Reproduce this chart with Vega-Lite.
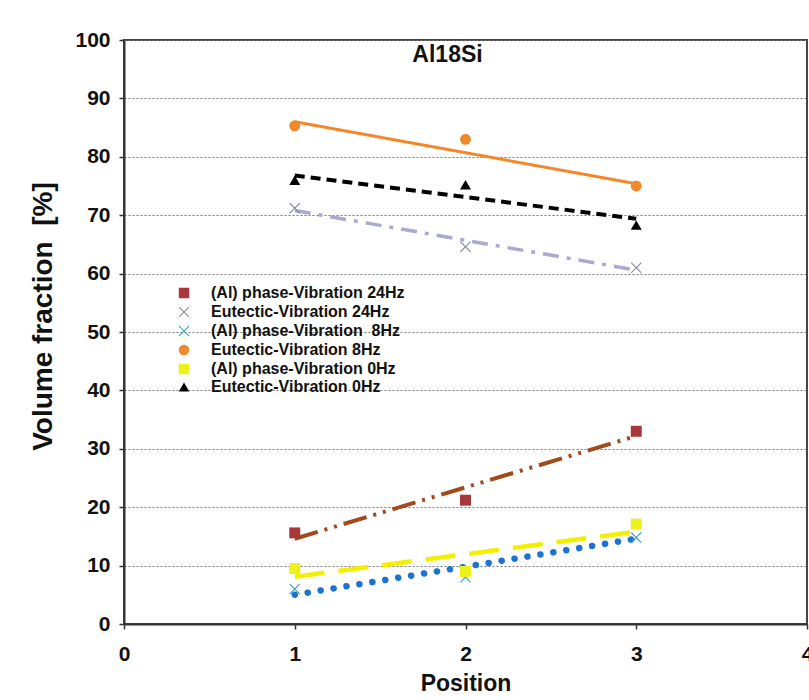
{
  "$schema": "https://vega.github.io/schema/vega-lite/v6.json",
  "autosize": "none",
  "width": 683,
  "height": 584,
  "padding": {"left": 124, "top": 40, "right": 2, "bottom": 76},
  "background": "white",
  "config": {
    "font": "Liberation Sans",
    "view": {"stroke": "#444", "strokeWidth": 2}
  },
  "title": {"text": "Al18Si", "fontSize": 23, "fontWeight": "bold", "color": "#111", "font": "Liberation Sans", "offset": -38, "dx": -18, "baseline": "top"},
  "datasets": {
    "pts": [
      {"series": "(Al) phase-Vibration 24Hz", "pos": 1, "val": 15.6},
      {"series": "(Al) phase-Vibration 24Hz", "pos": 2, "val": 21.2},
      {"series": "(Al) phase-Vibration 24Hz", "pos": 3, "val": 33.0},
      {"series": "Eutectic-Vibration 24Hz", "pos": 1, "val": 71.2},
      {"series": "Eutectic-Vibration 24Hz", "pos": 2, "val": 64.6},
      {"series": "Eutectic-Vibration 24Hz", "pos": 3, "val": 61.0},
      {"series": "(Al) phase-Vibration\u00a0 8Hz", "pos": 1, "val": 6.0},
      {"series": "(Al) phase-Vibration\u00a0 8Hz", "pos": 2, "val": 8.0},
      {"series": "(Al) phase-Vibration\u00a0 8Hz", "pos": 3, "val": 14.8},
      {"series": "Eutectic-Vibration 8Hz", "pos": 1, "val": 85.3},
      {"series": "Eutectic-Vibration 8Hz", "pos": 2, "val": 83.0},
      {"series": "Eutectic-Vibration 8Hz", "pos": 3, "val": 75.0},
      {"series": "(Al) phase-Vibration 0Hz", "pos": 1, "val": 9.5},
      {"series": "(Al) phase-Vibration 0Hz", "pos": 2, "val": 9.0},
      {"series": "(Al) phase-Vibration 0Hz", "pos": 3, "val": 17.1},
      {"series": "Eutectic-Vibration 0Hz", "pos": 1, "val": 76.0},
      {"series": "Eutectic-Vibration 0Hz", "pos": 2, "val": 75.2},
      {"series": "Eutectic-Vibration 0Hz", "pos": 3, "val": 68.3}
    ],
    "trend": [
      {"series": "a24", "pos": 1, "val": 14.6},
      {"series": "a24", "pos": 3, "val": 32.2},
      {"series": "e24", "pos": 1, "val": 70.8},
      {"series": "e24", "pos": 3, "val": 60.6},
      {"series": "a8", "pos": 1, "val": 5.0},
      {"series": "a8", "pos": 3, "val": 14.6},
      {"series": "e8", "pos": 1, "val": 86.0},
      {"series": "e8", "pos": 3, "val": 75.4},
      {"series": "a0", "pos": 1, "val": 8.1},
      {"series": "a0", "pos": 3, "val": 15.8},
      {"series": "e0", "pos": 1, "val": 76.8},
      {"series": "e0", "pos": 3, "val": 69.4}
    ]
  },
  "encoding": {
    "x": {
      "field": "pos", "type": "quantitative",
      "scale": {"domain": [0, 4], "nice": false, "zero": false},
      "axis": {
        "title": "Position", "values": [0, 1, 2, 3, 4], "format": "d",
        "grid": false, "domainColor": "#333", "domainWidth": 2, "tickColor": "#333", "tickSize": 5, "tickWidth": 1.5,
        "labelFont": "Liberation Sans", "labelFontSize": 21, "labelFontWeight": "bold", "labelColor": "#111", "labelPadding": 14,
        "titleFont": "Liberation Sans", "titleFontSize": 23, "titleFontWeight": "bold", "titleColor": "#111", "titlePadding": 8,
        "labelFlush": false
      }
    },
    "y": {
      "field": "val", "type": "quantitative",
      "scale": {"domain": [0, 100], "nice": false},
      "axis": {
        "title": "Volume fraction\u00a0 [%]", "values": [0, 10, 20, 30, 40, 50, 60, 70, 80, 90, 100],
        "grid": true, "gridColor": "#777", "gridDash": [2, 2], "gridWidth": 1,
        "domainColor": "#333", "domainWidth": 2, "tickColor": "#333", "tickSize": 5, "tickWidth": 1.5,
        "labelFont": "Liberation Sans", "labelFontSize": 21, "labelFontWeight": "bold", "labelColor": "#111", "labelPadding": 9,
        "titleFont": "Liberation Sans", "titleFontSize": 28, "titleFontWeight": "bold", "titleColor": "#111", "titlePadding": 17,
        "titleY": 276
      }
    }
  },
  "layer": [
    {"data": {"name": "trend"}, "transform": [{"filter": "datum.series === 'e8'"}],
     "mark": {"type": "line", "color": "#f5862a", "strokeWidth": 3}, "encoding": {}},
    {"data": {"name": "trend"}, "transform": [{"filter": "datum.series === 'e0'"}],
     "mark": {"type": "line", "color": "#000", "strokeWidth": 4, "strokeDash": [10, 6]}, "encoding": {}},
    {"data": {"name": "trend"}, "transform": [{"filter": "datum.series === 'e24'"}],
     "mark": {"type": "line", "color": "#a9a9d2", "strokeWidth": 3.5, "strokeDash": [16, 8, 4, 8]}, "encoding": {}},
    {"data": {"name": "trend"}, "transform": [{"filter": "datum.series === 'a24'"}],
     "mark": {"type": "line", "color": "#a24a1c", "strokeWidth": 4, "strokeDash": [24, 7, 3, 7, 3, 7]}, "encoding": {}},
    {"data": {"name": "trend"}, "transform": [{"filter": "datum.series === 'a0'"}],
     "mark": {"type": "line", "color": "#f2f000", "strokeWidth": 4.5, "strokeDash": [30, 14]}, "encoding": {}},
    {"data": {"name": "trend"}, "transform": [{"filter": "datum.series === 'a8'"}],
     "mark": {"type": "line", "color": "#1c74d0", "strokeWidth": 6.5, "strokeDash": [0.1, 13], "strokeCap": "round"}, "encoding": {}},
    {"data": {"name": "pts"},
     "mark": {"type": "point", "filled": true, "opacity": 1, "size": 120},
     "encoding": {
       "color": {
         "field": "series", "type": "nominal",
         "scale": {
           "domain": ["(Al) phase-Vibration 24Hz", "Eutectic-Vibration 24Hz", "(Al) phase-Vibration\u00a0 8Hz", "Eutectic-Vibration 8Hz", "(Al) phase-Vibration 0Hz", "Eutectic-Vibration 0Hz"],
           "range": ["#a8383c", "#8a8aa0", "#3fa4bc", "#f0892c", "#eef21c", "#000000"]
         },
         "legend": {
           "title": null, "orient": "none", "legendX": 52, "legendY": 245,
           "labelFont": "Liberation Sans", "labelFontSize": 16, "labelFontWeight": "bold", "labelColor": "#111", "labelLimit": 400,
           "symbolSize": 110, "rowPadding": 1, "labelOffset": 19, "symbolOpacity": 1
         }
       },
       "shape": {
         "field": "series", "type": "nominal",
         "scale": {
           "domain": ["(Al) phase-Vibration 24Hz", "Eutectic-Vibration 24Hz", "(Al) phase-Vibration\u00a0 8Hz", "Eutectic-Vibration 8Hz", "(Al) phase-Vibration 0Hz", "Eutectic-Vibration 0Hz"],
           "range": ["square", "M-1,-0.85L-0.85,-1L0,-0.15L0.85,-1L1,-0.85L0.15,0L1,0.85L0.85,1L0,0.15L-0.85,1L-1,0.85L-0.15,0Z", "M-1,-0.85L-0.85,-1L0,-0.15L0.85,-1L1,-0.85L0.15,0L1,0.85L0.85,1L0,0.15L-0.85,1L-1,0.85L-0.15,0Z", "circle", "square", "triangle-up"]
         },
         "legend": {"title": null}
       }
     }
    }
  ]
}
